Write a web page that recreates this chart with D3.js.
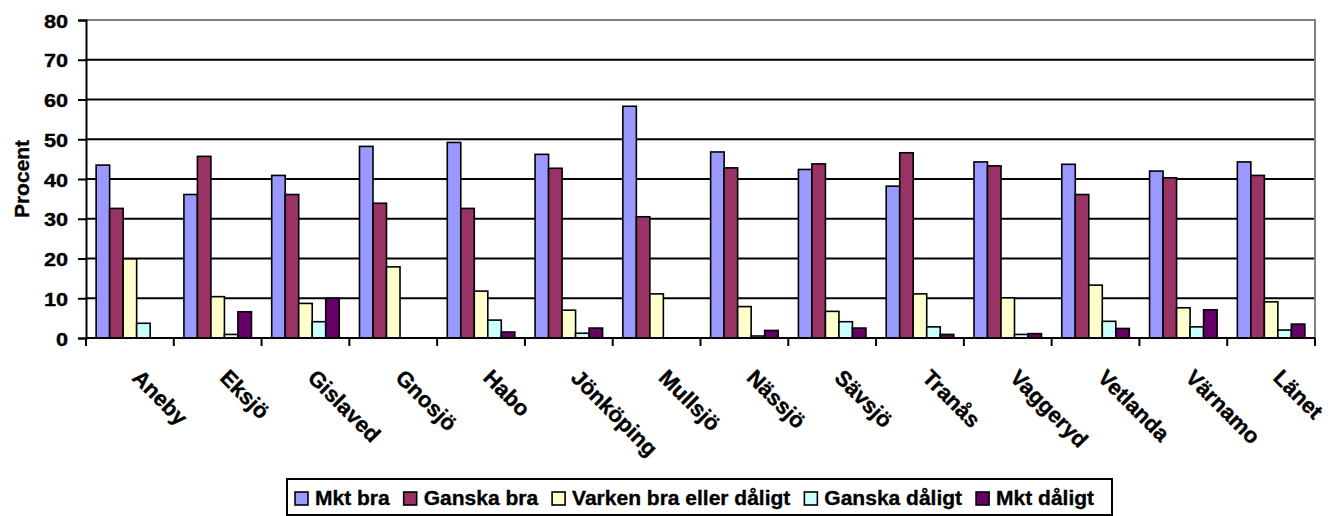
<!DOCTYPE html>
<html><head><meta charset="utf-8">
<script src="https://cdn.jsdelivr.net/npm/d3@7"></script>
<style>
html,body{margin:0;padding:0;background:#fff;}
svg{display:block;font-family:"Liberation Sans",Arial,sans-serif;font-weight:bold;}
svg text{stroke:#000;stroke-width:0.35px;}
</style></head>
<body><svg id="chart" width="1340" height="516"></svg>
<script>
const categories = ["Aneby","Eksjö","Gislaved","Gnosjö","Habo","Jönköping","Mullsjö","Nässjö","Sävsjö","Tranås","Vaggeryd","Vetlanda","Värnamo","Länet"];
const seriesNames = ["Mkt bra","Ganska bra","Varken bra eller dåligt","Ganska dåligt","Mkt dåligt"];
const mktBra       = [43.5,36.1,40.9,48.2,49.2,46.2,58.3,46.8,42.4,38.2,44.3,43.7,42.0,44.3];
const ganskaBra    = [32.6,45.7,36.1,33.9,32.6,42.7,30.5,42.8,43.8,46.6,43.3,36.1,40.3,40.9];
const varken       = [19.9,10.4,8.7,17.9,11.8,7.0,11.1,7.9,6.7,11.1,10.1,13.3,7.6,9.1];
const ganskaDaligt = [3.7,0.9,4.1,0,4.5,1.2,0,0.5,4.1,2.8,0.9,4.2,2.8,2.0];
const mktDaligt    = [0,6.6,10.0,0,1.5,2.5,0,1.9,2.5,0.9,1.1,2.4,7.1,3.5];
const yTicks = [0,10,20,30,40,50,60,70,80];
const colors = ["#9999FF","#993366","#FFFFCC","#CCFFFF","#660066"];
const yTitle = "Procent";

const seriesValues = [mktBra, ganskaBra, varken, ganskaDaligt, mktDaligt];

const svg = d3.select("#chart");
const L = 86, R = 1315, T = 20, B = 338;

const x0 = d3.scaleBand().domain(categories).range([L, R]).padding(0);
const x1 = d3.scaleBand().domain(seriesNames).range([0, x0.bandwidth()]).paddingInner(0).paddingOuter(0.75);
const y = d3.scaleLinear().domain([0, 80]).range([B, T]);
const color = d3.scaleOrdinal().domain(seriesNames).range(colors);

// gridlines
svg.append("g").selectAll("line").data(yTicks.filter(v => v > 0 && v < 80)).join("line")
  .attr("x1", L).attr("x2", R).attr("y1", d => y(d)).attr("y2", d => y(d))
  .attr("stroke", "#000").attr("stroke-width", 2);

// plot border top/right gray
svg.append("path").attr("d", `M${L},${y(80)}H${R}V${B}`).attr("fill", "none")
  .attr("stroke", "#808080").attr("stroke-width", 2);

// bars
const rows = [];
categories.forEach((c, i) => seriesNames.forEach((s, j) => rows.push({c, s, v: seriesValues[j][i]})));
svg.append("g").selectAll("rect").data(rows.filter(d => d.v > 0)).join("rect")
  .attr("x", d => x0(d.c) + x1(d.s))
  .attr("width", x1.bandwidth())
  .attr("y", d => y(d.v))
  .attr("height", d => y(0) - y(d.v))
  .attr("fill", d => color(d.s))
  .attr("stroke", "#000").attr("stroke-width", 1.6);

// y axis
const yAxis = d3.axisLeft(y).tickValues(yTicks).tickSize(8).tickPadding(9);
const gy = svg.append("g").attr("transform", `translate(${L},0)`).call(yAxis);
gy.select(".domain").attr("stroke", "#000").attr("stroke-width", 2);
gy.selectAll(".tick line").attr("stroke", "#000").attr("stroke-width", 2);
gy.selectAll(".tick text")
  .attr("x", null).attr("dy", null)
  .attr("transform", "translate(-18,7) scale(1.14,1)")
  .attr("font-size", 19).attr("font-weight", "bold")
  .attr("font-family", "Liberation Sans, Arial, sans-serif").attr("fill", "#000");

// x axis line + ticks at category boundaries
const gx = svg.append("g");
gx.append("line").attr("x1", L).attr("x2", R).attr("y1", B).attr("y2", B)
  .attr("stroke", "#000").attr("stroke-width", 2);
const bounds = categories.map(c => x0(c)).concat([R]);
gx.selectAll("line.tk").data(bounds).join("line").attr("class", "tk")
  .attr("x1", d => d).attr("x2", d => d).attr("y1", B).attr("y2", B + 8)
  .attr("stroke", "#000").attr("stroke-width", 2);
gx.selectAll("text").data(categories).join("text")
  .attr("transform", d => `translate(${x0(d) + x0.bandwidth() / 2 + 1},${B + 41}) rotate(45)`)
  .attr("font-size", 22).attr("text-anchor", "start").attr("fill", "#000")
  .text(d => d);

// y title
svg.append("text").attr("transform", `translate(29,${(T + B) / 2}) rotate(-90)`)
  .attr("text-anchor", "middle").attr("font-size", 21).attr("fill", "#000").text(yTitle);

// legend
const lg = svg.append("g");
const lgTop = 479, lgBot = 515, lgLeft = 287, lgRight = 1112;
lg.append("rect").attr("x", lgLeft).attr("y", lgTop).attr("width", lgRight - lgLeft).attr("height", lgBot - lgTop)
  .attr("fill", "#fff").attr("stroke", "#000").attr("stroke-width", 2);
let cx = 295;
seriesNames.forEach((s, j) => {
  lg.append("rect").attr("x", cx).attr("y", 492).attr("width", 13).attr("height", 13)
    .attr("fill", colors[j]).attr("stroke", "#000").attr("stroke-width", 1.6);
  const t = lg.append("text").attr("x", cx + 20).attr("y", 505).attr("font-size", 21).attr("fill", "#000").text(s);
  cx += 20 + t.node().getComputedTextLength() + 14;
});
</script></body></html>
